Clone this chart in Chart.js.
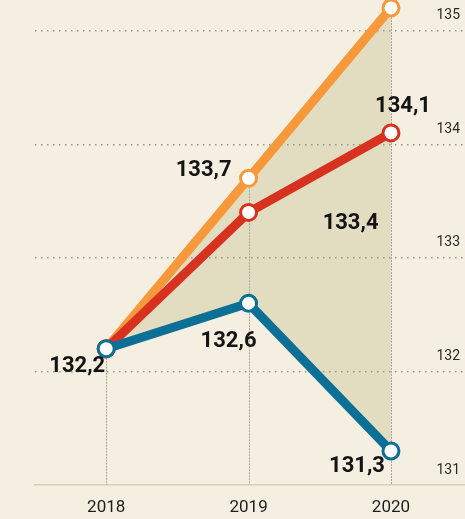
<!DOCTYPE html>
<html>
<head>
<meta charset="utf-8">
<script src="https://cdn.jsdelivr.net/npm/chart.js@4.4.1/dist/chart.umd.min.js"></script>
<style>
    html, body { margin: 0; padding: 0; background: #f4efe0; }
    #wrap { width: 465px; height: 519px; position: relative; }
</style>
</head>
<body>
<div id="wrap"><canvas id="chart"></canvas></div>
<script>
// waarden per jaar
const years = [2018, 2019, 2020];
const blueValues = [132.2, 132.6, 131.3];
const redValues = [132.2, 133.4, 134.1];
const orangeValues = [132.2, 133.7, 135.2];
const yTicks = [131, 132, 133, 134, 135];

const toPoints = values => values.map((v, i) => ({ x: years[i], y: v }));
const fmt = v => v.toFixed(1).replace('.', ',');

// label posities t.o.v. het punt (per dataset, per jaar)
const labelSpots = [
    [{ align: 'right', dx: -1, dy: 18 }, { align: 'center', dx: -20, dy: 38 }, { align: 'right', dx: -6, dy: 16 }],
    [null, { align: 'center', dx: 102, dy: 11 }, { align: 'center', dx: 12, dy: -26 }],
    [null, { align: 'right', dx: -17, dy: -8 }, { align: 'center', dx: 0, dy: -20 }],
];

const dropLines = {
    id: 'dropLines',
    beforeDatasetsDraw(chart) {
        const ctx = chart.ctx;
        const bottom = chart.chartArea.bottom;
        ctx.save();
        ctx.strokeStyle = '#a9a598';
        ctx.lineWidth = 1;
        ctx.setLineDash([2, 1]);
        years.forEach((year, i) => {
            const x = chart.scales.x.getPixelForValue(year);
            let top = bottom;
            chart.data.datasets.forEach((ds, d) => {
                const el = chart.getDatasetMeta(d).data[i];
                if (el) top = Math.min(top, el.y);
            });
            ctx.beginPath();
            ctx.moveTo(Math.round(x) + 0.5, top);
            ctx.lineTo(Math.round(x) + 0.5, bottom);
            ctx.stroke();
        });
        ctx.restore();
    }
};

const valueLabels = {
    id: 'valueLabels',
    afterDatasetsDraw(chart) {
        const ctx = chart.ctx;
        ctx.save();
        ctx.font = 'bold 22px Roboto';
        ctx.fillStyle = '#141414';
        ctx.textBaseline = 'middle';
        chart.data.datasets.forEach((ds, d) => {
            chart.getDatasetMeta(d).data.forEach((el, i) => {
                const spot = labelSpots[d][i];
                if (!spot) return;
                ctx.textAlign = spot.align;
                ctx.fillText(fmt(ds.data[i].y), el.x + spot.dx, el.y + spot.dy);
            });
        });
        ctx.restore();
    }
};

const ctx = document.getElementById('chart').getContext('2d');

new Chart(ctx, {
    type: 'line',
    data: {
        datasets: [{
            // blauw vult tot aan oranje
            data: toPoints(blueValues),
            borderColor: '#0c7096',
            backgroundColor: '#e2dcc1',
            fill: 2,
        }, {
            data: toPoints(redValues),
            borderColor: '#d7311f',
            fill: false,
        }, {
            data: toPoints(orangeValues),
            borderColor: '#f7993b',
            fill: false,
        }],
    },
    options: {
        responsive: true,
        maintainAspectRatio: false,
        animation: false,
        layout: { autoPadding: false, padding: { left: 35, right: 0, top: 0, bottom: 0 } },
        elements: {
            line: { borderWidth: 9, tension: 0, borderCapStyle: 'round', borderJoinStyle: 'round' },
            point: { radius: 8, borderWidth: 3, hoverRadius: 8 },
        },
        datasets: { line: { clip: false, pointBackgroundColor: '#ffffff' } },
        plugins: {
            legend: { display: false },
            tooltip: { enabled: false },
            filler: { drawTime: 'beforeDraw' },
        },
        scales: {
            x: {
                type: 'linear',
                min: 2017.5,
                max: 2020.52,
                afterBuildTicks: axis => { axis.ticks = years.map(v => ({ value: v })); },
                afterFit: axis => { axis.height = 34; axis.paddingLeft = 0; axis.paddingRight = 0; },
                grid: { display: false, drawTicks: false },
                border: { display: true, color: '#d6d0bb', width: 1.5 },
                ticks: {
                    callback: v => String(v),
                    color: '#1e1e1e',
                    font: { family: 'Roboto', size: 17 },
                    padding: 13,
                    maxRotation: 0,
                },
            },
            y: {
                position: 'right',
                min: 131,
                max: 135.27,
                afterBuildTicks: axis => { axis.ticks = yTicks.map(v => ({ value: v })); },
                afterFit: axis => { axis.width = 0; axis.paddingTop = 0; axis.paddingBottom = 0; },
                grid: {
                    drawTicks: false,
                    color: c => c.tick && c.tick.value === 131 ? 'rgba(0,0,0,0)' : '#9a978c',
                    lineWidth: 1.5,
                },
                border: { display: false, dash: [1.5, 4.5] },
                ticks: {
                    mirror: true,
                    padding: -5,
                    labelOffset: -15,
                    color: '#2a2a2a',
                    font: { family: 'Roboto', size: 14 },
                    callback: v => String(v),
                },
            },
        },
    },
    plugins: [dropLines, valueLabels],
});
</script>
</body>
</html>
